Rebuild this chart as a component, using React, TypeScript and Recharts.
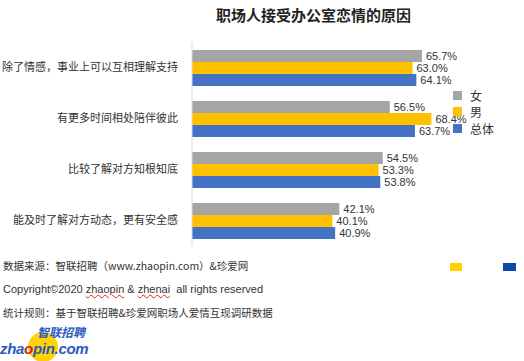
import React from "react";
import { BarChart, Bar, XAxis, YAxis, LabelList } from "recharts";

const categories = [
  "除了情感，事业上可以互相理解支持",
  "有更多时间相处陪伴彼此",
  "比较了解对方知根知底",
  "能及时了解对方动态，更有安全感",
];
const female = [65.7, 56.5, 54.5, 42.1];
const male = [63.0, 68.4, 53.3, 40.1];
const overall = [64.1, 63.7, 53.8, 40.9];
const seriesNames = ["女", "男", "总体"];
const seriesKeys = ["female", "male", "overall"];
const colors = ["#A5A5A5", "#FFC000", "#4472C4"];

const data = categories.map((c, i) => ({
  name: c,
  female: female[i],
  male: male[i],
  overall: overall[i],
}));

const FONT = "'Noto Sans CJK SC', 'Liberation Sans', sans-serif";
const LABEL_STYLE = { fontSize: 11, fill: "#333", fontFamily: "'Liberation Sans', sans-serif" };
const fmt = (v: any) => `${Number(v).toFixed(1)}%`;

export default function App() {
  return (
    <div style={{ position: "fixed", left: 0, top: 0, width: 524, height: 361, background: "#fff", overflow: "hidden", fontFamily: FONT }}>
      <div style={{ position: "absolute", left: 0, top: 4, width: 524, textAlign: "center", paddingLeft: 103, boxSizing: "border-box", fontSize: 15, fontWeight: "bold", color: "#222", lineHeight: "22px" }}>
        职场人接受办公室恋情的原因
      </div>
      <BarChart
        width={524}
        height={361}
        data={data}
        layout="vertical"
        margin={{ top: 42, right: 52, bottom: 115, left: 0 }}
        barSize={12}
        barGap={0}
      >
        <XAxis type="number" domain={[0, 80]} hide />
        <YAxis
          type="category"
          dataKey="name"
          width={192}
          tickLine={false}
          tickSize={0}
          tickMargin={14}
          axisLine={{ stroke: "#D9D9D9" }}
          tick={{ fontSize: 11, fill: "#333", fontFamily: FONT }}
          interval={0}
        />
        {seriesKeys.map((k, i) => (
          <Bar key={k} dataKey={k} name={seriesNames[i]} fill={colors[i]} isAnimationActive={false}>
            <LabelList dataKey={k} position="right" offset={4} formatter={fmt} style={LABEL_STYLE} />
          </Bar>
        ))}
      </BarChart>
      <div style={{ position: "absolute", left: 453, top: 87 }}>
        {seriesNames.map((n, i) => (
          <div key={n} style={{ display: "flex", alignItems: "center", height: 16.5 }}>
            <span style={{ display: "inline-block", width: 9, height: 9, background: colors[i], marginRight: 8 }} />
            <span style={{ fontSize: 12, color: "#333", lineHeight: "13px" }}>{n}</span>
          </div>
        ))}
      </div>
      <div style={{ position: "absolute", left: 3, top: 258, fontSize: 10.5, color: "#333", whiteSpace: "nowrap", lineHeight: "16px" }}>
        数据来源：智联招聘（www.zhaopin.com）&amp;珍爱网
      </div>
      <div style={{ position: "absolute", left: 3, top: 281, fontSize: 11, color: "#333", whiteSpace: "nowrap", lineHeight: "16px", fontFamily: "'Liberation Sans', sans-serif" }}>
        Copyright©2020{" "}
        <span style={{ textDecoration: "underline wavy #E02020", textDecorationThickness: 1 }}>zhaopin</span> &amp;{" "}
        <span style={{ textDecoration: "underline wavy #E02020", textDecorationThickness: 1 }}>zhenai</span>&nbsp; all rights reserved
      </div>
      <div style={{ position: "absolute", left: 3, top: 306, fontSize: 10.5, color: "#333", whiteSpace: "nowrap", lineHeight: "14px" }}>
        统计规则：基于智联招聘&amp;珍爱网职场人爱情互现调研数据
      </div>
      <div style={{ position: "absolute", left: 450, top: 263, width: 12, height: 8, background: "#FFD200" }} />
      <div style={{ position: "absolute", left: 503, top: 263, width: 13, height: 8, background: "#0B4AA8" }} />
      <div style={{ position: "absolute", left: 28, top: 332, width: 30, height: 30, borderRadius: 15, background: "#FFD200" }} />
      <div style={{ position: "absolute", left: 37, top: 325, fontSize: 12, fontWeight: "bold", fontStyle: "italic", color: "#2A5BC0", whiteSpace: "nowrap", lineHeight: "13px" }}>
        智联招聘
      </div>
      <div style={{ position: "absolute", left: 0, top: 343, fontSize: 15, fontWeight: "bold", fontStyle: "italic", color: "#2A5BC0", whiteSpace: "nowrap", lineHeight: "12px", fontFamily: "'Liberation Sans', sans-serif", letterSpacing: -0.3 }}>
        zha<span style={{ color: "#D81E1E" }}>o</span>pin.com
      </div>
    </div>
  );
}
